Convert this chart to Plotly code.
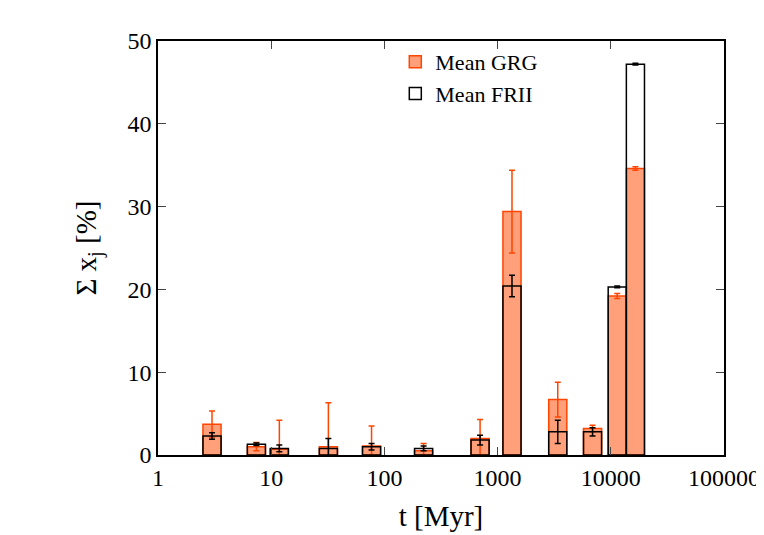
import numpy as np
import plotly.graph_objects as go

ages = [3.0, 7.4, 11.8, 32, 77, 222, 700, 1340, 3400, 6900, 11400, 16500]
grg = [3.7, 1.0, 0.7, 1.0, 1.1, 0.5, 2.0, 29.4, 6.7, 3.2, 19.2, 34.6]
grg_err = [1.6, 0.5, 3.5, 5.3, 2.4, 0.9, 2.3, 5.0, 2.1, 0.4, 0.3, 0.2]
frii = [2.3, 1.3, 0.8, 0.8, 1.0, 0.8, 1.8, 20.4, 2.8, 2.8, 20.3, 47.2]
frii_err = [0.4, 0.15, 0.4, 1.2, 0.4, 0.3, 0.6, 1.3, 1.4, 0.5, 0.1, 0.1]
tick_labels = ['1', '10', '100', '1000', '10000', '100000']

x = np.log10(ages)
font = dict(family='Liberation Serif', size=24, color='black')

fig = go.Figure()
fig.add_trace(go.Bar(
    x=x, y=grg, width=0.16, name='Mean GRG',
    marker=dict(color='#FFA07A', line=dict(color='#FF4500', width=1.5)),
    error_y=dict(type='data', array=grg_err, color='#FF4500', thickness=1.5, width=3)))
fig.add_trace(go.Bar(
    x=x, y=frii, width=0.16, name='Mean FRII',
    marker=dict(color='rgba(0,0,0,0)', line=dict(color='black', width=1.5)),
    error_y=dict(type='data', array=frii_err, color='black', thickness=1.5, width=3)))

fig.update_layout(
    barmode='overlay', width=764, height=535,
    plot_bgcolor='white', paper_bgcolor='white', font=font,
    margin=dict(l=150, r=42, t=33, b=88),
    legend=dict(x=0.55, y=1.0, xanchor='center', yanchor='top', bgcolor='rgba(0,0,0,0)',
                font=dict(family='Liberation Serif', size=22)),
    xaxis=dict(range=[0, 5], tickvals=list(range(6)), ticktext=tick_labels,
               ticks='inside', ticklen=8, mirror='ticks', showline=True, linecolor='black',
               linewidth=1.5, showgrid=False, zeroline=False,
               title=dict(text='t [Myr]', standoff=16)),
    yaxis=dict(range=[0, 50], dtick=10, ticks='inside', ticklen=8, mirror='ticks',
               showline=True, linecolor='black', linewidth=1.5, showgrid=False, zeroline=False,
               title=dict(text='Σ x<sub>j</sub> [%]', standoff=22)),
)

fig.write_html("out.html")
